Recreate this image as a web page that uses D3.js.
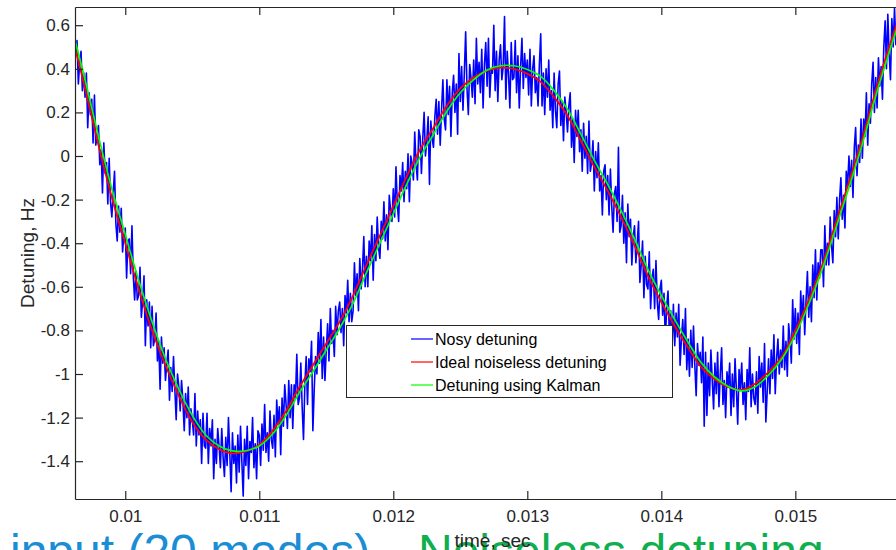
<!DOCTYPE html>
<html>
<head>
<meta charset="utf-8">
<script src="https://cdn.jsdelivr.net/npm/d3@7"></script>
<style>
  html, body { margin: 0; padding: 0; background: #fff; }
  svg { display: block; font-family: "Liberation Sans", Arial, Helvetica, sans-serif; }
</style>
</head>
<body>
<svg id="chart" width="896" height="550"></svg>
<script>
// Smooth curves, sampled every 0.1 ms starting at 9.6 ms
const curveStart = 0.0096, curveStep = 0.0001;
const idealDetuning = [
  0.56, 0.31, 0.05, -0.19, -0.40, -0.61, -0.80, -0.96, -1.10, -1.22,
  -1.30, -1.345, -1.364, -1.355, -1.325, -1.26, -1.17, -1.06, -0.96, -0.86,
  -0.76, -0.64, -0.50, -0.365, -0.23, -0.095, 0.03, 0.13, 0.23, 0.31,
  0.36, 0.392, 0.405, 0.40, 0.378, 0.34, 0.27, 0.185, 0.07, -0.05,
  -0.16, -0.28, -0.41, -0.55, -0.67, -0.78, -0.88, -0.97, -1.025, -1.06,
  -1.073, -1.045, -0.99, -0.92, -0.80, -0.66, -0.50, -0.31, -0.12, 0.08,
  0.30, 0.50, 0.68, 0.85
];
const kalmanDetuning = [
  0.59, 0.35, 0.09, -0.15, -0.36, -0.57, -0.76, -0.93, -1.07, -1.19,
  -1.28, -1.33, -1.353, -1.352, -1.33, -1.275, -1.19, -1.085, -0.99, -0.89,
  -0.79, -0.675, -0.535, -0.40, -0.265, -0.13, -0.005, 0.10, 0.205, 0.29,
  0.35, 0.395, 0.414, 0.414, 0.397, 0.365, 0.30, 0.215, 0.10, -0.02,
  -0.13, -0.25, -0.38, -0.52, -0.64, -0.75, -0.855, -0.95, -1.015, -1.057,
  -1.077, -1.058, -1.005, -0.93, -0.82, -0.68, -0.52, -0.335, -0.145, 0.055,
  0.275, 0.475, 0.66, 0.83
];

// Measured (noisy) detuning, sampled every 10 us starting at 9.6 ms
const noisyStart = 0.0096, noisyStep = 0.00001;
const noisyDetuning = [
  0.61, 0.46, 0.63, 0.46, 0.53, 0.33, 0.43, 0.48, 0.30, 0.38,
  0.27, 0.38, 0.13, 0.29, 0.19, 0.26, 0.06, 0.28, 0.05, 0.09,
  0.14, -0.04, 0.03, -0.17, 0.06, -0.08, -0.03, -0.22, -0.01, -0.21,
  -0.28, -0.17, -0.07, -0.31, -0.39, -0.23, -0.35, -0.24, -0.44, -0.36,
  -0.33, -0.56, -0.39, -0.38, -0.54, -0.32, -0.55, -0.66, -0.53, -0.66,
  -0.64, -0.51, -0.74, -0.66, -0.55, -0.87, -0.66, -0.78, -0.67, -0.88,
  -0.69, -0.87, -0.84, -0.72, -0.94, -0.85, -1.07, -0.83, -0.95, -0.88,
  -1.03, -0.95, -0.89, -1.12, -0.97, -1.08, -0.92, -1.07, -1.21, -1.00,
  -1.06, -1.17, -1.03, -1.12, -1.26, -1.09, -1.20, -1.06, -1.28, -1.16,
  -1.21, -1.28, -1.09, -1.33, -1.17, -1.28, -1.21, -1.41, -1.18, -1.33,
  -1.34, -1.18, -1.41, -1.25, -1.33, -1.21, -1.48, -1.30, -1.41, -1.25,
  -1.33, -1.43, -1.25, -1.38, -1.47, -1.29, -1.42, -1.20, -1.36, -1.54,
  -1.27, -1.41, -1.33, -1.50, -1.28, -1.45, -1.24, -1.40, -1.56, -1.30,
  -1.42, -1.24, -1.48, -1.31, -1.36, -1.20, -1.43, -1.32, -1.48, -1.26,
  -1.28, -1.42, -1.23, -1.35, -1.14, -1.36, -1.27, -1.40, -1.17, -1.30,
  -1.34, -1.19, -1.38, -1.12, -1.23, -1.15, -1.37, -1.11, -1.24, -1.05,
  -1.14, -1.25, -1.03, -1.20, -1.05, -1.25, -1.05, -1.11, -0.91, -1.14,
  -1.11, -0.95, -1.15, -1.30, -1.05, -0.92, -1.14, -0.93, -0.99, -0.85,
  -1.26, -1.07, -0.92, -1.00, -0.81, -0.95, -0.75, -1.02, -0.83, -1.03,
  -0.89, -0.77, -0.94, -0.70, -0.86, -0.80, -0.92, -0.69, -0.82, -0.71,
  -0.67, -0.81, -0.70, -0.87, -0.64, -0.72, -0.57, -0.76, -0.63, -0.76,
  -0.71, -0.49, -0.64, -0.54, -0.71, -0.47, -0.61, -0.52, -0.37, -0.60,
  -0.46, -0.60, -0.39, -0.48, -0.32, -0.57, -0.36, -0.48, -0.28, -0.42,
  -0.47, -0.30, -0.38, -0.21, -0.39, -0.27, -0.43, -0.18, -0.25, -0.30,
  -0.15, -0.28, -0.05, -0.22, -0.30, -0.09, -0.16, -0.03, -0.21, -0.07,
  -0.15, 0.01, -0.21, 0.00, -0.03, -0.11, 0.11, -0.04, -0.11, 0.12,
  0.09, -0.08, 0.08, 0.20, 0.00, 0.07, 0.18, -0.13, 0.16, 0.08,
  0.04, 0.18, 0.26, 0.10, 0.25, 0.05, 0.21, 0.35, 0.17, 0.12,
  0.35, 0.19, 0.32, 0.09, 0.29, 0.37, 0.20, 0.33, 0.10, 0.47,
  0.25, 0.41, 0.21, 0.38, 0.57, 0.31, 0.19, 0.42, 0.36, 0.27,
  0.44, 0.24, 0.54, 0.33, 0.43, 0.29, 0.49, 0.22, 0.42, 0.52,
  0.32, 0.54, 0.27, 0.40, 0.38, 0.60, 0.30, 0.48, 0.25, 0.44,
  0.51, 0.35, 0.41, 0.64, 0.26, 0.48, 0.37, 0.22, 0.52, 0.35,
  0.36, 0.53, 0.29, 0.46, 0.22, 0.41, 0.54, 0.31, 0.47, 0.36,
  0.44, 0.28, 0.49, 0.23, 0.40, 0.46, 0.29, 0.36, 0.23, 0.42,
  0.56, 0.23, 0.38, 0.19, 0.40, 0.27, 0.44, 0.21, 0.30, 0.13,
  0.38, 0.21, 0.13, 0.33, 0.39, 0.14, 0.25, 0.07, 0.27, 0.20,
  0.11, 0.23, 0.29, 0.04, 0.17, -0.03, 0.21, 0.09, 0.21, 0.02,
  0.12, -0.07, 0.15, -0.01, 0.09, -0.08, 0.16, -0.07, -0.03, 0.07,
  -0.16, 0.02, -0.10, 0.06, -0.16, -0.09, -0.27, -0.07, -0.04, -0.20,
  -0.09, -0.27, -0.06, -0.23, -0.35, -0.17, -0.14, -0.30, 0.04, -0.35,
  -0.32, -0.18, -0.40, -0.26, -0.49, -0.22, -0.37, -0.29, -0.50, -0.37,
  -0.32, -0.49, -0.40, -0.30, -0.58, -0.50, -0.39, -0.65, -0.46, -0.59,
  -0.61, -0.44, -0.70, -0.56, -0.52, -0.70, -0.48, -0.67, -0.75, -0.61,
  -0.57, -0.73, -0.63, -0.85, -0.69, -0.62, -0.82, -0.71, -0.88, -0.68,
  -0.87, -0.72, -0.83, -0.68, -0.96, -0.84, -0.75, -0.91, -0.70, -0.98,
  -0.84, -1.01, -0.80, -0.97, -0.78, -0.96, -1.10, -0.86, -0.96, -0.90,
  -1.04, -0.83, -1.24, -0.90, -1.19, -0.95, -1.10, -0.89, -1.03, -1.16,
  -0.95, -1.09, -0.90, -1.15, -1.00, -0.88, -1.14, -1.03, -1.20, -0.99,
  -1.06, -0.95, -1.19, -1.00, -1.15, -0.93, -1.07, -1.23, -0.98, -1.07,
  -0.95, -1.14, -1.04, -1.21, -0.98, -1.08, -0.88, -1.15, -1.00, -1.11,
  -1.14, -0.99, -1.18, -0.92, -1.06, -0.95, -1.13, -0.86, -1.22, -1.08,
  -0.93, -1.09, -0.89, -1.02, -0.82, -1.09, -0.93, -0.84, -1.00, -0.89,
  -0.97, -0.78, -0.98, -0.85, -1.01, -0.77, -0.84, -0.95, -0.66, -0.84,
  -0.70, -0.86, -0.72, -0.91, -0.62, -0.75, -0.64, -0.82, -0.66, -0.53,
  -0.74, -0.60, -0.76, -0.50, -0.65, -0.43, -0.66, -0.49, -0.56, -0.43,
  -0.43, -0.60, -0.32, -0.50, -0.40, -0.50, -0.28, -0.41, -0.49, -0.25,
  -0.37, -0.19, -0.38, -0.20, -0.10, -0.29, -0.18, -0.33, -0.07, -0.14,
  0.00, -0.14, -0.02, -0.19, 0.04, 0.13, -0.09, 0.05, -0.03, 0.17,
  -0.01, 0.17, 0.09, 0.29, 0.05, 0.24, 0.15, 0.33, 0.43, 0.20,
  0.36, 0.22, 0.45, 0.32, 0.41, 0.26, 0.50, 0.62, 0.40, 0.65,
  0.47, 0.35, 0.63, 0.50, 0.68, 0.51, 0.65
];

const xTickValues = [0.010, 0.011, 0.012, 0.013, 0.014, 0.015];
const xTickLabels = ["0.01", "0.011", "0.012", "0.013", "0.014", "0.015"];
const yTickValues = [0.6, 0.4, 0.2, 0, -0.2, -0.4, -0.6, -0.8, -1, -1.2, -1.4];
const yTickLabels = ["0.6", "0.4", "0.2", "0", "-0.2", "-0.4", "-0.6", "-0.8", "-1", "-1.2", "-1.4"];
const legendLabels = ["Nosy detuning", "Ideal noiseless detuning", "Detuning using Kalman"];
const seriesColors = ["#0000ff", "#ff0000", "#00ff00"];

const svg = d3.select("#chart");
svg.append("rect").attr("width", 896).attr("height", 550).attr("fill", "#fff");

// slide caption sitting under the figure
svg.append("text").attr("x", 10).attr("y", 568).attr("font-size", 48)
  .attr("fill", "#1b8dd4").text("input (20 modes)");
svg.append("text").attr("x", 418).attr("y", 568).attr("font-size", 48)
  .attr("fill", "#0fae4f").text("Noiseless detuning");

const plot = { left: 75, top: 7, right: 911, bottom: 499 };
const x = d3.scaleLinear().domain([0.009625, 0.015863]).range([plot.left, plot.right]);
const y = d3.scaleLinear().domain([-1.5734, 0.6835]).range([plot.bottom, plot.top]);

svg.append("clipPath").attr("id", "plot-clip")
  .append("rect")
  .attr("x", plot.left).attr("y", plot.top)
  .attr("width", plot.right - plot.left).attr("height", plot.bottom - plot.top);

const toPoints = (values, start, step) => values.map((v, i) => [start + i * step, v]);

const noisyLine = d3.line().x(d => x(d[0])).y(d => y(d[1]));
const smoothLine = d3.line().x(d => x(d[0])).y(d => y(d[1])).curve(d3.curveCatmullRom.alpha(0.5));

const lines = svg.append("g").attr("clip-path", "url(#plot-clip)");
lines.append("path")
  .datum(toPoints(noisyDetuning, noisyStart, noisyStep))
  .attr("d", noisyLine).attr("fill", "none")
  .attr("stroke", seriesColors[0]).attr("stroke-width", 1.6).attr("stroke-linejoin", "round");
lines.append("path")
  .datum(toPoints(idealDetuning, curveStart, curveStep))
  .attr("d", smoothLine).attr("fill", "none")
  .attr("stroke", seriesColors[1]).attr("stroke-width", 1.8);
lines.append("path")
  .datum(toPoints(kalmanDetuning, curveStart, curveStep))
  .attr("d", smoothLine).attr("fill", "none")
  .attr("stroke", seriesColors[2]).attr("stroke-width", 1.7);

// axes: ticks point inward, box drawn in dark grey
const axisColor = "#262626";
function styleAxis(g) {
  g.attr("font-family", null).attr("font-size", 17);
  g.selectAll("path.domain").attr("stroke", axisColor).attr("stroke-width", 1.2);
  g.selectAll(".tick line").attr("stroke", axisColor).attr("stroke-width", 1.2);
  g.selectAll(".tick text").attr("fill", axisColor);
}

svg.append("g")
  .attr("transform", `translate(0,${plot.bottom})`)
  .call(d3.axisBottom(x).tickValues(xTickValues)
    .tickFormat((d, i) => xTickLabels[i]).tickSizeInner(-8).tickSizeOuter(0).tickPadding(11))
  .call(styleAxis);

svg.append("g")
  .attr("transform", `translate(0,${plot.top})`)
  .call(d3.axisTop(x).tickValues(xTickValues)
    .tickFormat("").tickSizeInner(-8).tickSizeOuter(0))
  .call(styleAxis);

svg.append("g")
  .attr("transform", `translate(${plot.left},0)`)
  .call(d3.axisLeft(y).tickValues(yTickValues)
    .tickFormat((d, i) => yTickLabels[i]).tickSizeInner(-8).tickSizeOuter(0).tickPadding(5))
  .call(styleAxis);

// axis titles
svg.append("text")
  .attr("transform", `translate(34,${(plot.top + plot.bottom) / 2}) rotate(-90)`)
  .attr("text-anchor", "middle").attr("font-size", 19).attr("fill", axisColor)
  .text("Detuning, Hz");
svg.append("text")
  .attr("x", 492.5).attr("y", 547)
  .attr("text-anchor", "middle").attr("font-size", 19).attr("fill", axisColor)
  .text("time, sec");

// legend
const legend = svg.append("g");
legend.append("rect")
  .attr("x", 346.5).attr("y", 325.5).attr("width", 326).attr("height", 72)
  .attr("fill", "#fff").attr("stroke", axisColor).attr("stroke-width", 1);
legendLabels.forEach((label, i) => {
  const cy = 339 + i * 23;
  legend.append("line")
    .attr("x1", 411).attr("x2", 433).attr("y1", cy).attr("y2", cy)
    .attr("stroke", seriesColors[i]).attr("stroke-width", 1.2);
  legend.append("text")
    .attr("x", 435).attr("y", cy).attr("dy", "0.35em")
    .attr("font-size", 16).attr("fill", "#000")
    .text(label);
});
</script>
</body>
</html>
